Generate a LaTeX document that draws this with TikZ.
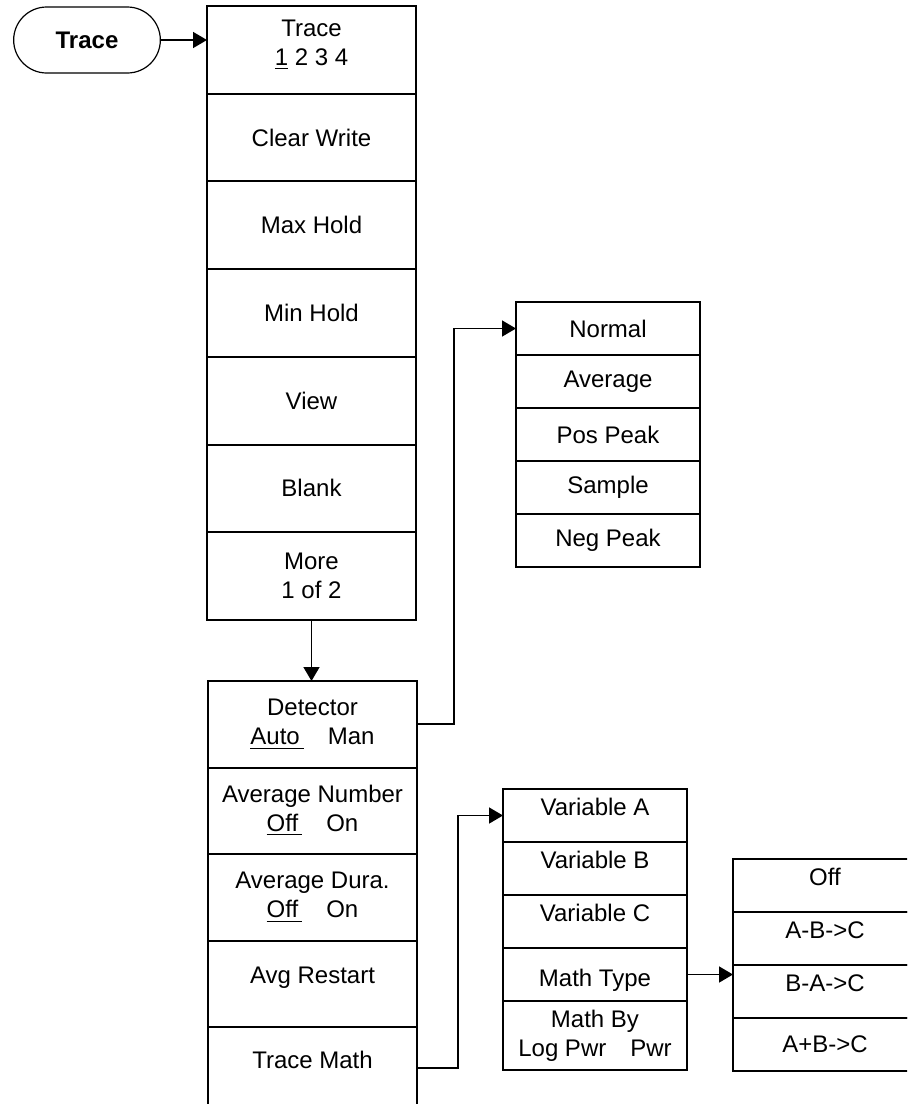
\documentclass[tikz,border=0pt]{standalone}
\usepackage{fontspec}
\setmainfont{Liberation Sans}
\usetikzlibrary{positioning,shapes.misc,arrows.meta}
\tikzset{
  menukey/.style={draw, line width=1pt, outer sep=0pt, inner sep=0pt, minimum width=104.5pt, minimum height=43.85pt, align=center},
  lowkey/.style={menukey, minimum height=43.25pt},
  subkey/.style={draw, line width=1pt, outer sep=0pt, inner sep=0pt, minimum width=92pt, minimum height=26.5pt, align=center},
  hardkey/.style={draw, rounded rectangle, line width=0.6pt, outer sep=0pt, minimum width=80pt, minimum height=33pt, font={\fontsize{12}{14.5}\selectfont\bfseries}},
  upper/.style={text height=9pt, text depth=9pt},
  lower/.style={text height=14pt, text depth=2pt},
  link/.style={-{Triangle[length=7pt,width=8pt]}, line width=0.8pt}
}

\begin{document}
\begin{tikzpicture}[x=0.5pt, y=-0.5pt, font={\fontsize{12}{14.5}\selectfont}, node distance=0pt]
  \clip (0,0) rectangle (907,1104);

  \node[hardkey] (key) at (87,40) {Trace};

  % first menu page
  \node[menukey, anchor=north] (trace) at (311.5,6) {Trace\\\underline{1} 2 3 4\rule[-7pt]{0pt}{7pt}};
  \node[menukey, below=of trace] (clrw) {Clear Write};
  \node[menukey, below=of clrw] (maxh) {Max Hold};
  \node[menukey, below=of maxh] (minh) {Min Hold};
  \node[menukey, below=of minh] (view) {View};
  \node[menukey, below=of view] (blank) {Blank};
  \node[menukey, below=of blank] (more) {More\\1 of 2};

  % second menu page
  \node[lowkey, anchor=north] (det) at (312.5,681) {Detector\\\underline{Auto\,}\quad Man};
  \node[lowkey, below=of det] (avgnum) {Average Number\\\underline{Off\,}\quad On};
  \node[lowkey, below=of avgnum] (avgdur) {Average Dura.\\\underline{Off\,}\quad On};
  \node[lowkey, upper, below=of avgdur] (avgrst) {Avg Restart};
  \node[lowkey, upper, minimum height=41pt, below=of avgrst] (tmath) {Trace Math};

  % detector choices
  \node[subkey, anchor=north] (normal) at (608,302) {Normal};
  \node[subkey, below=of normal] (average) {Average};
  \node[subkey, below=of average] (pospk) {Pos Peak};
  \node[subkey, below=of pospk] (sample) {Sample};
  \node[subkey, below=of sample] (negpk) {Neg Peak};

  % trace math
  \node[subkey, upper, anchor=north] (vara) at (595,789) {Variable A};
  \node[subkey, upper, below=of vara] (varb) {Variable B};
  \node[subkey, upper, below=of varb] (varc) {Variable C};
  \node[subkey, lower, below=of varc] (mtype) {Math Type};
  \node[subkey, minimum height=34.5pt, below=of mtype] (mby) {Math By\\Log Pwr\quad Pwr};

  % math type choices
  \node[subkey, upper, anchor=north] (moff) at (825,859) {Off};
  \node[subkey, upper, below=of moff] (amb) {A-B->C};
  \node[subkey, upper, below=of amb] (bma) {B-A->C};
  \node[subkey, below=of bma] (apb) {A+B->C};

  \draw[link] (key.east) -- (key.east -| trace.west);
  \draw[link] (more.south) -- (more.south |- det.north);
  \draw[link] (det.east) -- ([xshift=18.5pt]det.east) |- (normal.west);
  \draw[link] (tmath.east) -- ([xshift=20.5pt]tmath.east) |- (vara.west);
  \draw[link] (mtype.east) -- (mtype.east -| bma.west);
\end{tikzpicture}
\end{document}
